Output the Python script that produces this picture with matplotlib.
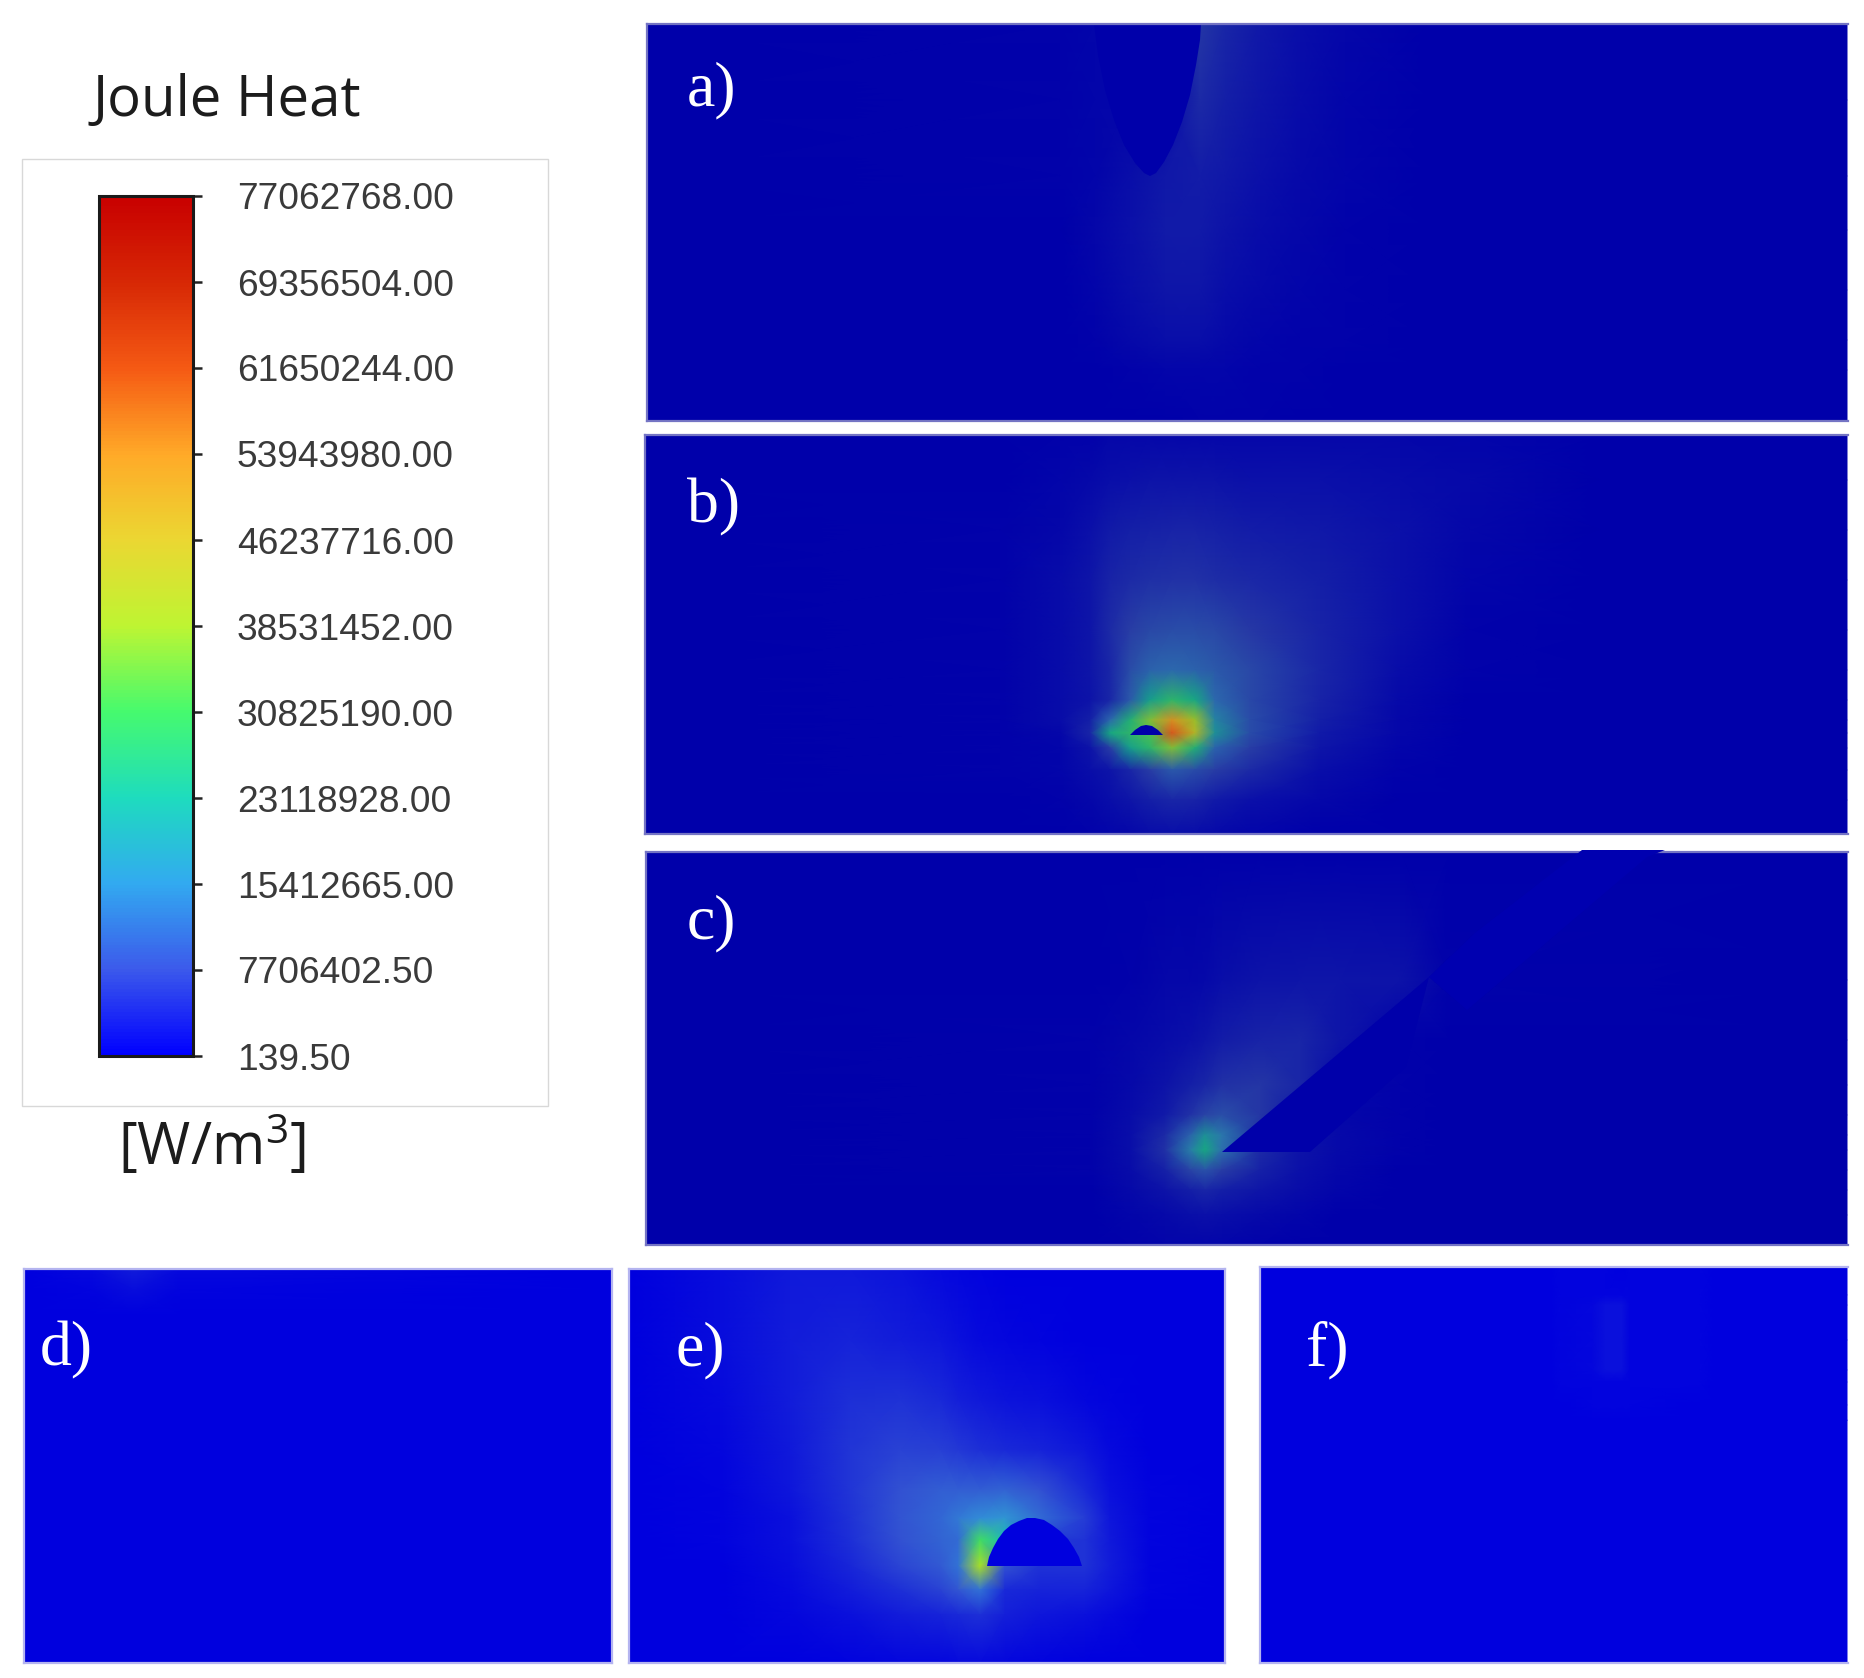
import numpy as np
import matplotlib
matplotlib.use('Agg')
import matplotlib.pyplot as plt
from matplotlib.colors import LinearSegmentedColormap, Normalize
from matplotlib.cm import ScalarMappable
from matplotlib.patches import Rectangle

W, H = 1865, 1678

legend_ticks = [139.50, 7706402.50, 15412665.00, 23118928.00, 30825190.00, 38531452.00,
                46237716.00, 53943980.00, 61650244.00, 69356504.00, 77062768.00]
legend_labels = ['139.50', '7706402.50', '15412665.00', '23118928.00', '30825190.00', '38531452.00',
                 '46237716.00', '53943980.00', '61650244.00', '69356504.00', '77062768.00']

a_x = [647, 1060, 1095, 1130, 1165, 1200, 1225, 1260, 1300, 1345, 1430, 1847]
a_y = [24, 100, 176, 230, 290, 340, 370, 421]
a_v = [[0, .4, .7, .7, .8, 7, 5, 3.2, 2, 1, 0, 0],
       [0, .4, .7, .9, 1.2, 5.5, 4.2, 2.8, 1.6, .9, .1, 0],
       [0, .4, .9, 1.9, 3.2, 3.8, 3.1, 2.2, 1.4, .7, .1, 0],
       [0, .3, 1, 2.2, 3.5, 3.4, 2.6, 1.8, 1.1, .6, .1, 0],
       [0, .3, .8, 2, 3, 2.8, 2, 1.4, .9, .5, .1, 0],
       [0, .1, .5, 1.3, 2.1, 1.9, 1.3, .9, .6, .4, .1, 0],
       [0, 0, .2, .5, .9, .9, .8, .6, .5, .3, .05, 0],
       [0, 0, 0, 0, .2, .4, .5, .5, .3, .1, 0, 0]]
a_wedge_x = [1094, 1098, 1105, 1114, 1124, 1135, 1144, 1150, 1156, 1164, 1173, 1182, 1190, 1196, 1200, 1201]
a_wedge_y = [24, 55, 90, 120, 145, 163, 173, 176, 173, 162, 145, 122, 95, 65, 40, 24]

b_x = [645, 1000, 1060, 1090, 1110, 1130, 1150, 1172, 1195, 1215, 1250, 1320, 1400, 1470, 1600, 1847]
b_y = [435, 480, 530, 580, 630, 670, 700, 720, 733, 748, 770, 800, 834]
b_v = [[0, 0, .4, .6, 1, 1.2, 1.2, 1.2, 1.2, 1.2, 1.2, 1.2, 1.2, .8, 0, 0],
       [0, .1, .8, 1.4, 2, 2.4, 2.6, 2.6, 2.6, 2.6, 2.4, 2.2, 1.8, 1.3, .2, 0],
       [0, .4, 1.2, 2.4, 3.4, 4, 4.4, 4.6, 4.6, 4.4, 3.8, 3.2, 2.2, 1, .1, 0],
       [0, .5, 1.6, 3, 4.6, 5.6, 6.2, 6.5, 6.4, 6, 5.2, 4, 2.2, .8, 0, 0],
       [0, .6, 1.6, 3, 5.5, 8, 9.5, 10, 10, 9.5, 7.5, 4.8, 2.2, .6, 0, 0],
       [0, .6, 1.6, 3, 5, 10, 13, 14, 13, 12, 9.5, 5, 1.8, .5, 0, 0],
       [0, .6, 1.6, 2.6, 5, 12, 22, 28, 24, 14, 9.5, 4.6, 1.4, .3, 0, 0],
       [0, .6, 1.6, 4, 14, 26, 36, 50, 38, 18, 10, 4, 1.2, .2, 0, 0],
       [0, .6, 1, 5, 24, 28, 32, 62, 42, 20, 10, 3.6, 1, .1, 0, 0],
       [0, .5, .9, 2.6, 8, 22, 28, 36, 26, 13, 8, 3, .8, .1, 0, 0],
       [0, .4, .8, 2, 3, 5, 8, 12, 10, 8, 5.5, 2, .5, 0, 0, 0],
       [0, .2, .5, 1.2, 2, 3, 4, 5, 4.6, 3.6, 2.4, 1, .2, 0, 0, 0],
       [0, 0, .2, .5, .8, 1.2, 1.6, 2, 1.8, 1.4, .8, .3, 0, 0, 0, 0]]
b_part_x = [1130, 1135, 1141, 1146, 1152, 1158, 1163]
b_part_y = [735, 730, 726, 725, 726, 730, 735]

c_x = [646, 1090, 1130, 1165, 1190, 1205, 1222, 1260, 1300, 1340, 1400, 1450, 1847]
c_y = [852, 980, 1040, 1085, 1115, 1135, 1150, 1170, 1190, 1215, 1245]
c_v = [[0, .1, .2, .2, .2, .2, .2, .2, .1, 0, 0, 0, 0],
       [0, .3, .6, 1, 1.2, 1.5, 2, 2.6, 3, 3, 2.6, .4, 0],
       [0, .4, 1, 1.6, 2.2, 3, 3.8, 4.6, 5, 3, .5, .2, 0],
       [0, .5, 1.3, 2.6, 4, 5, 6.5, 7, 5, 1, .5, .2, 0],
       [0, .5, 1.6, 3.6, 6.5, 9, 10.5, 7, 2.6, 1.2, .5, .1, 0],
       [0, .5, 2, 5.5, 13, 20, 16, 6.5, 2.6, 1.4, .4, 0, 0],
       [0, .5, 2, 6.5, 17, 24, 15, 5.5, 2.6, 1.5, .4, 0, 0],
       [0, .5, 1.8, 4.5, 9, 11, 8, 4.4, 2.4, 1.2, .3, 0, 0],
       [0, .3, 1.3, 2.6, 4, 5, 4.2, 2.8, 1.6, .8, .1, 0, 0],
       [0, .2, .8, 1.5, 2, 2.2, 2, 1.4, .8, .3, 0, 0, 0],
       [0, .1, .4, .7, .8, .8, .7, .4, .2, 0, 0, 0, 0]]
c_part_x = [1222, 1310, 1406, 1429, 1467, 1647, 1582, 1475, 1429]
c_part_y = [1152, 1152, 1067, 977, 1010, 857, 850, 933, 977]
c_bar_x = [1467, 1647, 1665, 1582, 1475, 1429]
c_bar_y = [1010, 857, 850, 850, 933, 977]

d_x = [24, 90, 134, 180, 612]
d_y = [1269, 1290, 1315, 1663]
d_v = [[0, 1, 3, 1, 0],
       [0, .6, 1.5, .6, 0],
       [0, .1, .3, .1, 0],
       [0, 0, 0, 0, 0]]

e_x = [629, 720, 790, 850, 900, 940, 958, 980, 1005, 1040, 1085, 1110, 1150, 1225]
e_y = [1269, 1340, 1400, 1450, 1490, 1518, 1540, 1566, 1590, 1615, 1663]
e_v = [[0, 1.4, 2.6, 2.6, 2, 1.2, .8, .5, .2, 0, 0, 0, 0, 0],
       [0, 1.5, 3, 3.6, 3, 2.2, 1.6, 1.2, .8, .4, 0, 0, 0, 0],
       [0, 1, 2.8, 4.6, 5, 4, 3.2, 2.6, 2, 1.6, .9, .5, .1, 0],
       [0, .7, 2.6, 5.2, 6.4, 6.2, 5.6, 4.8, 4.2, 3.4, 2.2, 1.2, .3, 0],
       [0, .5, 2.2, 5.2, 8, 9.5, 9.5, 9.5, 10, 8, 4, 1.8, .4, 0],
       [0, .4, 1.8, 5, 8.4, 10.5, 12.5, 15, 16, 11, 6, 2.2, .4, 0],
       [0, .4, 1.6, 4.6, 8, 10, 11, 30, 22, 6, 5, 2.6, .5, 0],
       [0, .3, 1.4, 3.8, 6.8, 9, 12, 38, 8, 5, 5, 3, .6, 0],
       [0, .2, 1.1, 2.8, 4.8, 6.6, 8.5, 12, 4, 3.6, 3.4, 2.2, .4, 0],
       [0, .1, .7, 1.6, 2.8, 3.6, 4.2, 4.8, 3.2, 2.4, 1.8, 1, .2, 0],
       [0, 0, .1, .4, .7, .9, 1, 1, .8, .6, .3, .1, 0, 0]]
e_part_x = [987, 989, 993, 998, 1004, 1011, 1019, 1027, 1035, 1044, 1052, 1060, 1068, 1074, 1079, 1082]
e_part_y = [1566, 1557, 1548, 1539, 1531, 1525, 1521, 1518, 1518, 1520, 1525, 1531, 1539, 1548, 1557, 1566]

f_x = [1260, 1550, 1560, 1592, 1605, 1622, 1630, 1700, 1715, 1847]
f_y = [1267, 1295, 1305, 1340, 1370, 1382, 1405, 1420, 1663]
f_v = [[0, 0, .4, .4, .4, .3, .4, .4, 0, 0],
       [0, 0, .4, .5, .6, .5, .4, .4, 0, 0],
       [0, 0, .4, .7, 1.6, 1.6, .4, .4, 0, 0],
       [0, 0, .4, .8, 1.8, 1.8, .4, .4, 0, 0],
       [0, 0, .4, .7, 1.6, 1.6, .5, .4, 0, 0],
       [0, 0, .4, .5, .6, .6, .4, .4, 0, 0],
       [0, 0, .2, .4, .4, .4, .4, .2, 0, 0],
       [0, 0, 0, .1, .2, .2, .1, 0, 0, 0],
       [0, 0, 0, 0, 0, 0, 0, 0, 0, 0]]

# colour stops, legend goes from pure blue, panels are dimmed like in the figure
legend_colors = [(0, 0, 255), (60, 90, 235), (50, 170, 240), (30, 220, 190), (70, 250, 110),
                 (190, 245, 50), (235, 215, 50), (255, 170, 40), (245, 90, 20), (215, 40, 5), (200, 0, 0)]
dim_colors = [(0, 0, 170), (40, 60, 165), (45, 115, 175), (20, 165, 135), (60, 190, 90),
              (160, 190, 40), (200, 170, 40), (225, 120, 30), (215, 90, 30), (190, 40, 5), (170, 0, 0)]
bright_colors = [(0, 0, 222), (50, 80, 210), (50, 145, 215), (25, 195, 170), (70, 225, 90),
                 (175, 225, 35), (225, 200, 40), (245, 155, 35), (235, 85, 20), (205, 40, 5), (190, 0, 0)]


def make_cmap(name, colors):
    return LinearSegmentedColormap.from_list(name, [tuple(c / 255 for c in col) for col in colors])


legend_cmap = make_cmap('legend', legend_colors)
dim_cmap = make_cmap('dim', dim_colors)
bright_cmap = make_cmap('bright', bright_colors)


def px_axes(x0, y0, x1, y1):
    return fig.add_axes([x0 / W, 1 - y1 / H, (x1 - x0) / W, (y1 - y0) / H])


def panel(box, xs, ys, vals, cmap, label, label_xy, border, no_right=False):
    ax = px_axes(*box)
    X, Y = np.meshgrid(xs, ys)
    ax.pcolormesh(X, Y, np.array(vals), shading='gouraud', cmap=cmap, vmin=0, vmax=77.06)
    ax.set_xlim(box[0], box[2])
    ax.set_ylim(box[3], box[1])
    ax.set_xticks([])
    ax.set_yticks([])
    for s in ax.spines.values():
        s.set_color(border)
        s.set_linewidth(1.6)
    if no_right:
        ax.spines['right'].set_visible(False)
    fig.text(label_xy[0] / W, 1 - label_xy[1] / H, label, color='white', fontsize=46,
             family='Liberation Serif', ha='left', va='center')
    return ax


fig = plt.figure(figsize=(W / 100, H / 100), dpi=100, facecolor='white')

# legend box and colorbar
fig.add_artist(Rectangle((22 / W, 1 - 1106 / H), 526 / W, 947 / H, transform=fig.transFigure,
                         facecolor='white', edgecolor='#d8d8d8', linewidth=1, zorder=-1))
cax = px_axes(99, 196, 193, 1056)
sm = ScalarMappable(norm=Normalize(legend_ticks[0], legend_ticks[-1]), cmap=legend_cmap)
cb = fig.colorbar(sm, cax=cax)
cb.set_ticks(legend_ticks)
cb.set_ticklabels(legend_labels)
cb.ax.tick_params(length=6.5, width=1.8, color='#222222', pad=25, labelsize=26.7, labelcolor='#3a3a3a')
for t in cb.ax.get_yticklabels():
    t.set_family('Liberation Sans')
cb.outline.set_edgecolor('#1a1a1a')
cb.outline.set_linewidth(2.2)

fig.text(92 / W, 1 - 101 / H, 'Joule Heat', fontsize=40.5, family='Open Sans', color='#1c1c1c', ha='left', va='center')
fig.text(118 / W, 1 - 1147 / H, r'[W/m$\mathregular{^3}$]', fontsize=41.5, family='Open Sans', color='#1c1c1c',
         ha='left', va='center')

dim_border = '#7474c4'
bright_border = '#b4b4f0'
dim_bg = dim_cmap(0.0)
bright_bg = bright_cmap(0.0)

ax_a = panel((647, 24, 1848, 421), a_x, a_y, a_v, dim_cmap, 'a)', (687, 90), dim_border, True)
ax_a.fill(a_wedge_x, a_wedge_y, color=dim_bg, lw=0)

ax_b = panel((645, 435, 1848, 834), b_x, b_y, b_v, dim_cmap, 'b)', (687, 507), dim_border, True)
ax_b.fill(b_part_x, b_part_y, color=dim_bg, lw=0)

ax_c = panel((646, 852, 1848, 1245), c_x, c_y, c_v, dim_cmap, 'c)', (687, 923), dim_border, True)
ax_c.fill(c_part_x, c_part_y, color=dim_bg, lw=0)
ax_c.fill(c_bar_x, c_bar_y, color=(0, 0, 176 / 255), lw=0, clip_on=False, zorder=3)

panel((24, 1269, 612, 1663), d_x, d_y, d_v, bright_cmap, 'd)', (40, 1350), bright_border)

ax_e = panel((629, 1269, 1225, 1663), e_x, e_y, e_v, bright_cmap, 'e)', (676, 1350), bright_border)
ax_e.fill(e_part_x, e_part_y, color=bright_bg, lw=0)

panel((1260, 1267, 1848, 1663), f_x, f_y, f_v, bright_cmap, 'f)', (1306, 1350), bright_border, True)

fig.savefig('out.png', dpi=100)
